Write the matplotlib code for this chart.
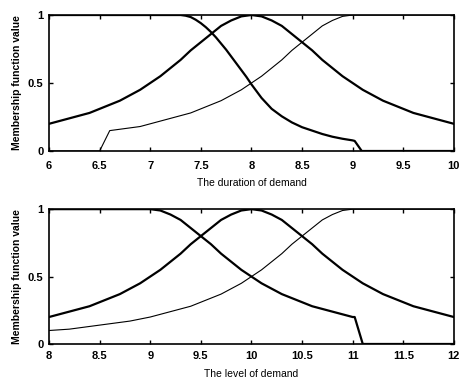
import matplotlib
matplotlib.use("Agg")
import matplotlib.pyplot as plt

plt.rcParams['font.family'] = ['Liberation Sans', 'DejaVu Sans']

# ---- top panel: duration of demand ----
dur_short_x = [6.0, 7.3, 7.35, 7.4, 7.45, 7.5, 7.55, 7.6, 7.65, 7.7, 7.75, 7.8, 7.85, 7.9, 7.95, 8.0,
               8.1, 8.2, 8.3, 8.4, 8.5, 8.6, 8.7, 8.8, 8.9, 9.0, 9.02, 9.09, 10.0]
dur_short_y = [1.0, 1.0, 0.995, 0.985, 0.965, 0.94, 0.91, 0.875, 0.835, 0.79, 0.745, 0.695, 0.645, 0.595, 0.545, 0.49,
               0.39, 0.31, 0.255, 0.21, 0.175, 0.15, 0.125, 0.105, 0.09, 0.078, 0.074, 0.0, 0.0]

dur_mid_x = [6.0, 6.1, 6.2, 6.3, 6.4, 6.5, 6.6, 6.7, 6.8, 6.9, 7.0, 7.1, 7.2, 7.3, 7.4, 7.5, 7.6, 7.7, 7.8, 7.9, 8.0,
             8.1, 8.2, 8.3, 8.4, 8.5, 8.6, 8.7, 8.8, 8.9, 9.0, 9.1, 9.2, 9.3, 9.4, 9.5, 9.6, 9.7, 9.8, 9.9, 10.0]
dur_mid_y = [0.2, 0.22, 0.24, 0.26, 0.28, 0.31, 0.34, 0.37, 0.41, 0.45, 0.5, 0.55, 0.61, 0.67, 0.74, 0.8, 0.86, 0.92, 0.96, 0.99, 1.0,
             0.99, 0.96, 0.92, 0.86, 0.8, 0.74, 0.67, 0.61, 0.55, 0.5, 0.45, 0.41, 0.37, 0.34, 0.31, 0.28, 0.26, 0.24, 0.22, 0.2]

dur_long_x = [6.0, 6.5, 6.6, 6.7, 6.8, 6.9, 7.0, 7.1, 7.2, 7.3, 7.4, 7.5, 7.6, 7.7, 7.8, 7.9, 8.0,
              8.1, 8.2, 8.3, 8.4, 8.5, 8.6, 8.7, 8.8, 8.9, 9.0, 10.0]
dur_long_y = [0.0, 0.0, 0.15, 0.16, 0.17, 0.18, 0.2, 0.22, 0.24, 0.26, 0.28, 0.31, 0.34, 0.37, 0.41, 0.45, 0.5,
              0.55, 0.61, 0.67, 0.74, 0.8, 0.86, 0.92, 0.96, 0.99, 1.0, 1.0]

dur_ticks = [6, 6.5, 7, 7.5, 8, 8.5, 9, 9.5, 10]
dur_labels = ['6', '6.5', '7', '7.5', '8', '8.5', '9', '9.5', '10']

# ---- bottom panel: level of demand ----
lvl_low_x = [8.0, 9.0, 9.1, 9.2, 9.3, 9.4, 9.5, 9.6, 9.7, 9.8, 9.9, 10.0,
             10.1, 10.2, 10.3, 10.4, 10.5, 10.6, 10.7, 10.8, 10.9, 11.0, 11.02, 11.1, 12.0]
lvl_low_y = [1.0, 1.0, 0.99, 0.96, 0.92, 0.86, 0.8, 0.74, 0.67, 0.61, 0.55, 0.5,
             0.45, 0.41, 0.37, 0.34, 0.31, 0.28, 0.26, 0.24, 0.22, 0.2, 0.2, 0.0, 0.0]

lvl_mid_x = [8.0, 8.1, 8.2, 8.3, 8.4, 8.5, 8.6, 8.7, 8.8, 8.9, 9.0, 9.1, 9.2, 9.3, 9.4, 9.5, 9.6, 9.7, 9.8, 9.9, 10.0,
             10.1, 10.2, 10.3, 10.4, 10.5, 10.6, 10.7, 10.8, 10.9, 11.0, 11.1, 11.2, 11.3, 11.4, 11.5, 11.6, 11.7, 11.8, 11.9, 12.0]
lvl_mid_y = [0.2, 0.22, 0.24, 0.26, 0.28, 0.31, 0.34, 0.37, 0.41, 0.45, 0.5, 0.55, 0.61, 0.67, 0.74, 0.8, 0.86, 0.92, 0.96, 0.99, 1.0,
             0.99, 0.96, 0.92, 0.86, 0.8, 0.74, 0.67, 0.61, 0.55, 0.5, 0.45, 0.41, 0.37, 0.34, 0.31, 0.28, 0.26, 0.24, 0.22, 0.2]

lvl_high_x = [8.0, 8.2, 8.4, 8.6, 8.8, 9.0, 9.1, 9.2, 9.3, 9.4, 9.5, 9.6, 9.7, 9.8, 9.9, 10.0,
              10.1, 10.2, 10.3, 10.4, 10.5, 10.6, 10.7, 10.8, 10.9, 11.0, 12.0]
lvl_high_y = [0.1, 0.11, 0.13, 0.15, 0.17, 0.2, 0.22, 0.24, 0.26, 0.28, 0.31, 0.34, 0.37, 0.41, 0.45, 0.5,
              0.55, 0.61, 0.67, 0.74, 0.8, 0.86, 0.92, 0.96, 0.99, 1.0, 1.0]

lvl_ticks = [8, 8.5, 9, 9.5, 10, 10.5, 11, 11.5, 12]
lvl_labels = ['8', '8.5', '9', '9.5', '10', '10.5', '11', '11.5', '12']

y_ticks = [0, 0.5, 1]
y_labels = ['0', '0.5', '1']


def style_axis(ax, xlim, xticks, xlabels, xlabel, xpad, lpad):
    ax.set_xlim(*xlim)
    ax.set_ylim(0, 1)
    ax.set_xticks(xticks)
    ax.set_xticklabels(xlabels)
    ax.set_yticks(y_ticks)
    ax.set_yticklabels(y_labels)
    ax.tick_params(direction='in', length=3, width=1, top=True, right=True, labelsize=8)
    ax.tick_params(axis='x', pad=xpad)
    ax.tick_params(axis='y', pad=4)
    for lbl in ax.get_xticklabels() + ax.get_yticklabels():
        lbl.set_fontweight('bold')
    for sp in ax.spines.values():
        sp.set_linewidth(1.2)
    ax.set_xlabel(xlabel, fontsize=7.5, labelpad=lpad)
    ax.set_ylabel('Membership function value', fontsize=7.5, fontweight='bold', labelpad=4)


fig = plt.figure(figsize=(4.59, 3.82), dpi=100)
ax1 = fig.add_axes([0.1068, 0.6047, 0.882, 0.356])
ax2 = fig.add_axes([0.1068, 0.0995, 0.882, 0.353])

ax1.plot(dur_short_x, dur_short_y, color='black', lw=1.6)
ax1.plot(dur_mid_x, dur_mid_y, color='black', lw=1.6)
ax1.plot(dur_long_x, dur_long_y, color='black', lw=0.8)
style_axis(ax1, (6, 10), dur_ticks, dur_labels, 'The duration of demand', 7, 5)

ax2.plot(lvl_low_x, lvl_low_y, color='black', lw=1.6)
ax2.plot(lvl_mid_x, lvl_mid_y, color='black', lw=1.6)
ax2.plot(lvl_high_x, lvl_high_y, color='black', lw=0.8)
style_axis(ax2, (8, 12), lvl_ticks, lvl_labels, 'The level of demand', 5, 6)

fig.savefig('out.png', dpi=100)
